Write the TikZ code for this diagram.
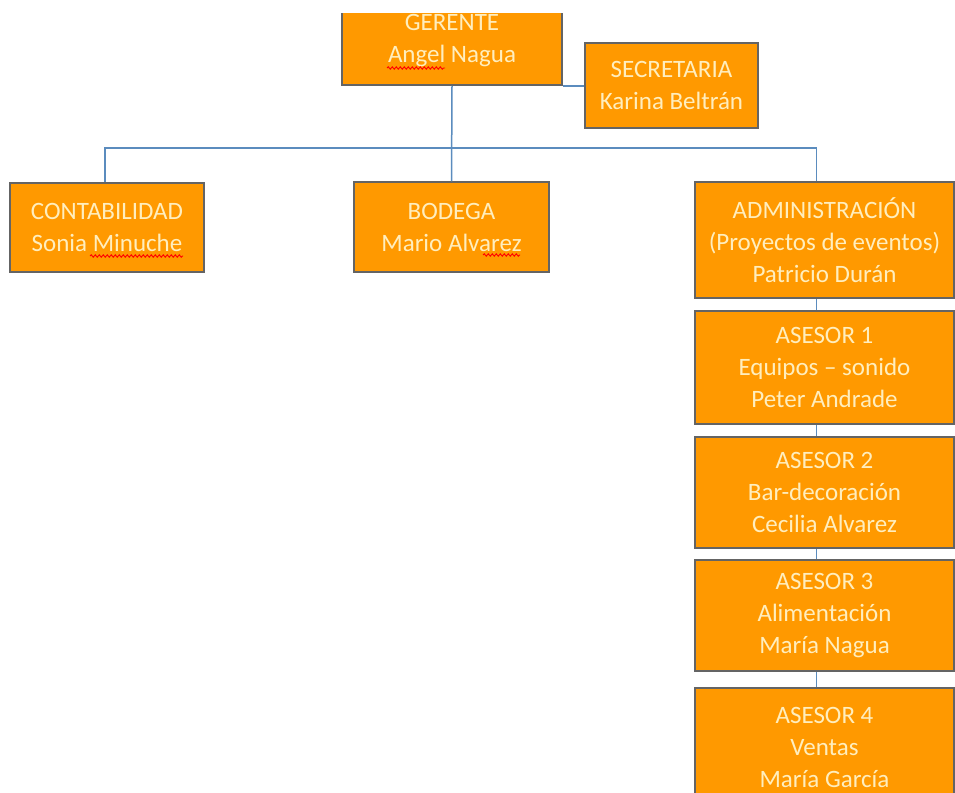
\documentclass[tikz,border=0pt]{standalone}
\usepackage{fontspec}
\setmainfont{Carlito}
\usetikzlibrary{decorations.pathmorphing}
\definecolor{orgc}{RGB}{255,153,0}
\definecolor{bordc}{RGB}{100,100,100}
\definecolor{txtc}{RGB}{255,238,190}
\definecolor{linec}{RGB}{91,140,190}
\tikzset{
  orgbox/.style={draw=bordc, line width=1.5pt, fill=orgc, text=txtc, align=center,
    font=\fontsize{25}{32}\selectfont, inner sep=0pt},
  conn/.style={draw=linec, line width=1.5pt},
  squig/.style={draw=red, line width=0.9pt, decorate,
    decoration={snake, amplitude=1.2pt, segment length=4pt}}
}
\begin{document}
\begin{tikzpicture}[x=1pt,y=-1pt]
\useasboundingbox (0,0) rectangle (955,792);
\begin{scope}
\clip (0,14) rectangle (955,792);
% nodes
\node[orgbox, minimum width=220pt, minimum height=89pt] (G) at (452,40.5) {GERENTE\\Angel Nagua};
\node[orgbox, minimum width=173pt, minimum height=85pt] (S) at (671.5,85.5) {SECRETARIA\\Karina Beltrán};
\node[orgbox, minimum width=194pt, minimum height=89pt] (C) at (107,227.5) {CONTABILIDAD\\Sonia Minuche};
\node[orgbox, minimum width=195pt, minimum height=90pt] (B) at (451.5,227) {BODEGA\\Mario Alvarez};
\node[orgbox, minimum width=259pt, minimum height=116pt] (A) at (824.5,240) {ADMINISTRACIÓN\\(Proyectos de eventos)\\Patricio Durán};
\node[orgbox, minimum width=259pt, minimum height=113pt] (A1) at (824.5,367.5) {ASESOR 1\\Equipos – sonido\\Peter Andrade};
\node[orgbox, minimum width=259pt, minimum height=111pt] (A2) at (824.5,492.5) {ASESOR 2\\Bar-decoración\\Cecilia Alvarez};
\node[orgbox, minimum width=259pt, minimum height=111pt] (A3) at (824.5,615.5) {ASESOR 3\\Alimentación\\María Nagua};
\node[orgbox, minimum width=259pt, minimum height=118pt] (A4) at (824.5,747) {ASESOR 4\\Ventas\\María García};
% spell-check squiggles
\draw[squig] (387,68) -- (445,68);
\draw[squig] (90,256) -- (183,256);
\draw[squig] (483,255) -- (520,255);
% connectors
\coordinate (bus) at (452,148);
\draw[conn] (G.south east) -- (G.south east -| S.west);
\draw[conn] (G.south) -- (B.north);
\draw[conn] ([xshift=-2pt]C.north) |- (bus);
\draw[conn] (bus) -| ([xshift=-8pt]A.north);
\draw[conn] ([xshift=-8pt]A.south) -- ([xshift=-8pt]A1.north);
\draw[conn] ([xshift=-8pt]A1.south) -- ([xshift=-8pt]A2.north);
\draw[conn] ([xshift=-8pt]A2.south) -- ([xshift=-8pt]A3.north);
\draw[conn] ([xshift=-8pt]A3.south) -- ([xshift=-8pt]A4.north);
\end{scope}
\end{tikzpicture}
\end{document}
